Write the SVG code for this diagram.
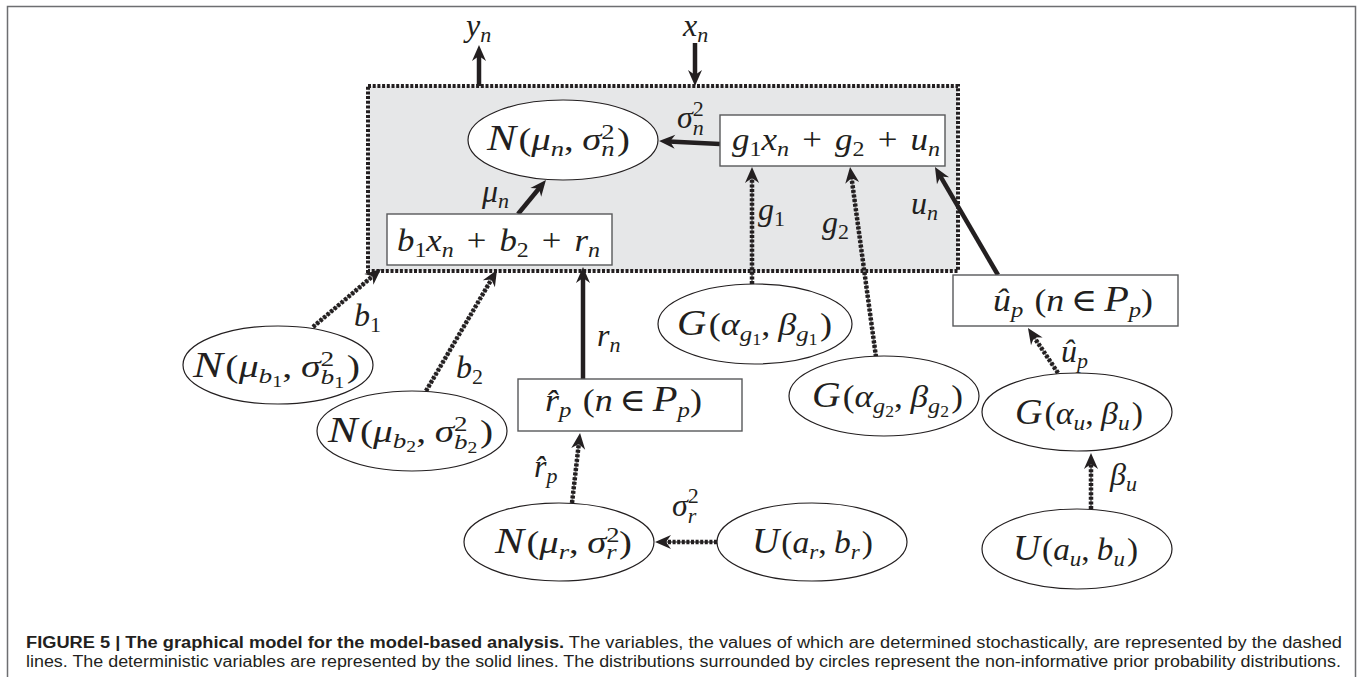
<svg xmlns="http://www.w3.org/2000/svg" width="1360" height="677" viewBox="0 0 1360 677">
<style>
.m{font-family:"Liberation Serif","DejaVu Serif",serif;font-size:32px;fill:#231f20}
.i{font-style:italic}
.c{font-style:italic;font-size:36px}
.s{font-size:22px}
.ss{font-size:16px}
.cap{font-family:"Liberation Sans",Arial,sans-serif;font-size:16px;fill:#231f20}
.b{font-weight:bold}
.ell{fill:#fff;stroke:#231f20;stroke-width:1.2}
.box{fill:#fff;stroke:#58595b;stroke-width:1.4}
.solid{stroke:#231f20;stroke-width:4.5;fill:none;marker-end:url(#ah)}
.dotu{stroke:#8a8a8a;stroke-width:2;fill:none}
.dot{stroke:#231f20;stroke-width:4.5;stroke-dasharray:3 1.6;fill:none;marker-end:url(#ah)}
</style>
<defs>
<marker id="ah" viewBox="-17 -8 18 16" refX="-10" refY="0" markerWidth="18" markerHeight="16" markerUnits="userSpaceOnUse" orient="auto">
<path d="M0,0 L-16,-7 L-11,0 L-16,7 Z" fill="#231f20"/>
</marker>
</defs>
<rect width="1360" height="677" fill="#fff"/>
<path d="M7.5,677 V6.5 H1355.5 V677" fill="none" stroke="#6d6e71" stroke-width="1.5"/>

<g id="plate">
<rect x="368" y="86" width="590" height="185" fill="#e6e7e8" stroke="#231f20" stroke-width="4" stroke-dasharray="3 1.7"/>
</g>

<g id="connectors">
<line class="solid" x1="479" y1="86" x2="479" y2="55"/>
<line class="solid" x1="695" y1="43" x2="695" y2="76"/>
<line class="solid" x1="720" y1="144" x2="669" y2="141.5"/>
<line class="solid" x1="518" y1="214" x2="539.6" y2="187.7"/>
<line class="solid" x1="998" y1="275" x2="940" y2="175.6"/>
<line class="solid" x1="583" y1="379" x2="583" y2="277"/>
<line class="dotu" x1="752" y1="284" x2="752" y2="177"/>
<line class="dot" x1="752" y1="284" x2="752" y2="177"/>
<line class="dotu" x1="876" y1="357" x2="851.4" y2="176.9"/>
<line class="dot" x1="876" y1="357" x2="851.4" y2="176.9"/>
<line class="dotu" x1="1058" y1="373" x2="1033.5" y2="336.3"/>
<line class="dot" x1="1058" y1="373" x2="1033.5" y2="336.3"/>
<line class="dotu" x1="1091" y1="509" x2="1091" y2="463"/>
<line class="dot" x1="1091" y1="509" x2="1091" y2="463"/>
<line class="dotu" x1="313" y1="327" x2="373.4" y2="275.5"/>
<line class="dot" x1="313" y1="327" x2="373.4" y2="275.5"/>
<line class="dotu" x1="426" y1="391" x2="491.9" y2="278.6"/>
<line class="dot" x1="426" y1="391" x2="491.9" y2="278.6"/>
<line class="dotu" x1="572" y1="503" x2="578.9" y2="442.9"/>
<line class="dot" x1="572" y1="503" x2="578.9" y2="442.9"/>
<line class="dotu" x1="717" y1="542" x2="665" y2="542"/>
<line class="dot" x1="717" y1="542" x2="665" y2="542"/>
</g>

<g id="labels">
<text class="m" x="466" y="36"><tspan class="i">y</tspan><tspan class="s i" dy="6">n</tspan></text>
<text class="m" x="683" y="36"><tspan class="i">x</tspan><tspan class="s i" dy="6">n</tspan></text>
<text class="m" x="677" y="128"><tspan class="i">σ</tspan><tspan class="s" dy="-12">2</tspan><tspan class="s i" dx="-11" dy="19">n</tspan></text>
<text class="m" x="482" y="202"><tspan class="i">μ</tspan><tspan class="s i" dy="6">n</tspan></text>
<text class="m" x="758" y="220"><tspan class="i">g</tspan><tspan class="s" dy="6">1</tspan></text>
<text class="m" x="822" y="233"><tspan class="i">g</tspan><tspan class="s" dy="6">2</tspan></text>
<text class="m" x="911" y="214"><tspan class="i">u</tspan><tspan class="s i" dy="6">n</tspan></text>
<text class="m" x="1061" y="362"><tspan class="i">û</tspan><tspan class="s i" dy="6">p</tspan></text>
<text class="m" x="1110" y="485"><tspan class="i">β</tspan><tspan class="s i" dy="6">u</tspan></text>
<text class="m" x="354" y="326"><tspan class="i">b</tspan><tspan class="s" dy="6">1</tspan></text>
<text class="m" x="456" y="378"><tspan class="i">b</tspan><tspan class="s" dy="6">2</tspan></text>
<text class="m" x="597" y="346"><tspan class="i">r</tspan><tspan class="s i" dy="6">n</tspan></text>
<text class="m" x="534" y="477"><tspan class="i">r̂</tspan><tspan class="s i" dy="6">p</tspan></text>
<text class="m" x="672" y="516"><tspan class="i">σ</tspan><tspan class="s" dy="-13">2</tspan><tspan class="s i" dx="-11" dy="20">r</tspan></text>
</g>

<g id="n-normal-n">
<ellipse class="ell" cx="563" cy="140" rx="95" ry="40"/>
<text class="m" x="487" y="150" textLength="143" lengthAdjust="spacingAndGlyphs"><tspan class="c">N</tspan><tspan dx="2">(</tspan><tspan class="i">μ</tspan><tspan class="s i" dy="6">n</tspan><tspan dy="-6">,</tspan><tspan class="i" dx="7">σ</tspan><tspan class="s" dy="-11">2</tspan><tspan class="s i" dx="-11" dy="17">n</tspan><tspan dy="-6" dx="2">)</tspan></text>
</g>

<g id="box-b">
<rect class="box" x="387" y="214" width="225" height="51"/>
<text class="m" x="397" y="251" textLength="203" lengthAdjust="spacingAndGlyphs"><tspan class="i">b</tspan><tspan class="s" dy="6">1</tspan><tspan class="i" dy="-6">x</tspan><tspan class="s i" dy="6">n</tspan><tspan dy="-6" dx="12">+</tspan><tspan class="i" dx="12">b</tspan><tspan class="s" dy="6">2</tspan><tspan dy="-6" dx="12">+</tspan><tspan class="i" dx="12">r</tspan><tspan class="s i" dy="6">n</tspan></text>
</g>

<g id="box-g">
<rect class="box" x="720" y="115" width="225" height="51"/>
<text class="m" x="732" y="150" textLength="208" lengthAdjust="spacingAndGlyphs"><tspan class="i">g</tspan><tspan class="s" dy="6">1</tspan><tspan class="i" dy="-6">x</tspan><tspan class="s i" dy="6">n</tspan><tspan dy="-6" dx="12">+</tspan><tspan class="i" dx="12">g</tspan><tspan class="s" dy="6">2</tspan><tspan dy="-6" dx="12">+</tspan><tspan class="i" dx="12">u</tspan><tspan class="s i" dy="6">n</tspan></text>
</g>

<g id="box-up">
<rect class="box" x="953" y="275" width="225" height="51"/>
<text class="m" x="993" y="311" textLength="160" lengthAdjust="spacingAndGlyphs"><tspan class="i">û</tspan><tspan class="s i" dy="6">p</tspan><tspan dy="-6" dx="10">(</tspan><tspan class="i">n</tspan><tspan dx="6">∈</tspan><tspan class="c" dx="6">P</tspan><tspan class="s i" dy="6">p</tspan><tspan dy="-6">)</tspan></text>
</g>

<g id="box-rp">
<rect class="box" x="518" y="379" width="224" height="52"/>
<text class="m" x="545" y="411" textLength="157" lengthAdjust="spacingAndGlyphs"><tspan class="i">r̂</tspan><tspan class="s i" dy="6">p</tspan><tspan dy="-6" dx="10">(</tspan><tspan class="i">n</tspan><tspan dx="6">∈</tspan><tspan class="c" dx="6">P</tspan><tspan class="s i" dy="6">p</tspan><tspan dy="-6">)</tspan></text>
</g>

<g id="n-b1">
<ellipse class="ell" cx="278" cy="365" rx="95" ry="39"/>
<text class="m" x="193" y="377" textLength="167" lengthAdjust="spacingAndGlyphs"><tspan class="c">N</tspan><tspan dx="2">(</tspan><tspan class="i">μ</tspan><tspan class="s i" dy="6">b</tspan><tspan class="ss" dy="4">1</tspan><tspan dy="-10">,</tspan><tspan class="i" dx="7">σ</tspan><tspan class="s" dy="-11">2</tspan><tspan class="s i" dx="-11" dy="18">b</tspan><tspan class="ss" dy="4">1</tspan><tspan dy="-11" dx="2">)</tspan></text>
</g>

<g id="n-b2">
<ellipse class="ell" cx="412" cy="431" rx="95" ry="40"/>
<text class="m" x="328" y="442" textLength="165" lengthAdjust="spacingAndGlyphs"><tspan class="c">N</tspan><tspan dx="2">(</tspan><tspan class="i">μ</tspan><tspan class="s i" dy="6">b</tspan><tspan class="ss" dy="4">2</tspan><tspan dy="-10">,</tspan><tspan class="i" dx="7">σ</tspan><tspan class="s" dy="-11">2</tspan><tspan class="s i" dx="-11" dy="18">b</tspan><tspan class="ss" dy="4">2</tspan><tspan dy="-11" dx="2">)</tspan></text>
</g>

<g id="g-g1">
<ellipse class="ell" cx="755" cy="324" rx="97" ry="40"/>
<text class="m" x="677" y="335" textLength="155" lengthAdjust="spacingAndGlyphs"><tspan class="c">G</tspan><tspan dx="2">(</tspan><tspan class="i">α</tspan><tspan class="s i" dy="6">g</tspan><tspan class="ss" dy="4">1</tspan><tspan dy="-10">,</tspan><tspan class="i" dx="7">β</tspan><tspan class="s i" dy="6">g</tspan><tspan class="ss" dy="4">1</tspan><tspan dy="-10" dx="2">)</tspan></text>
</g>

<g id="g-g2">
<ellipse class="ell" cx="884" cy="396" rx="95" ry="40"/>
<text class="m" x="812" y="407" textLength="151" lengthAdjust="spacingAndGlyphs"><tspan class="c">G</tspan><tspan dx="2">(</tspan><tspan class="i">α</tspan><tspan class="s i" dy="6">g</tspan><tspan class="ss" dy="4">2</tspan><tspan dy="-10">,</tspan><tspan class="i" dx="7">β</tspan><tspan class="s i" dy="6">g</tspan><tspan class="ss" dy="4">2</tspan><tspan dy="-10" dx="2">)</tspan></text>
</g>

<g id="g-u">
<ellipse class="ell" cx="1077" cy="412" rx="95" ry="39"/>
<text class="m" x="1015" y="424" textLength="128" lengthAdjust="spacingAndGlyphs"><tspan class="c">G</tspan><tspan dx="2">(</tspan><tspan class="i">α</tspan><tspan class="s i" dy="6">u</tspan><tspan dy="-6">,</tspan><tspan class="i" dx="7">β</tspan><tspan class="s i" dy="6">u</tspan><tspan dy="-6" dx="2">)</tspan></text>
</g>

<g id="u-u">
<ellipse class="ell" cx="1077" cy="549" rx="95" ry="40"/>
<text class="m" x="1013" y="560" textLength="125" lengthAdjust="spacingAndGlyphs"><tspan class="c">U</tspan><tspan dx="2">(</tspan><tspan class="i">a</tspan><tspan class="s i" dy="6">u</tspan><tspan dy="-6">,</tspan><tspan class="i" dx="7">b</tspan><tspan class="s i" dy="6">u</tspan><tspan dy="-6" dx="2">)</tspan></text>
</g>

<g id="n-r">
<ellipse class="ell" cx="559" cy="542" rx="95" ry="39"/>
<text class="m" x="495" y="553" textLength="137" lengthAdjust="spacingAndGlyphs"><tspan class="c">N</tspan><tspan dx="2">(</tspan><tspan class="i">μ</tspan><tspan class="s i" dy="6">r</tspan><tspan dy="-6">,</tspan><tspan class="i" dx="7">σ</tspan><tspan class="s" dy="-11">2</tspan><tspan class="s i" dx="-11" dy="17">r</tspan><tspan dy="-6" dx="2">)</tspan></text>
</g>

<g id="u-r">
<ellipse class="ell" cx="812" cy="542" rx="95" ry="39"/>
<text class="m" x="752" y="553" textLength="121" lengthAdjust="spacingAndGlyphs"><tspan class="c">U</tspan><tspan dx="2">(</tspan><tspan class="i">a</tspan><tspan class="s i" dy="6">r</tspan><tspan dy="-6">,</tspan><tspan class="i" dx="7">b</tspan><tspan class="s i" dy="6">r</tspan><tspan dy="-6" dx="2">)</tspan></text>
</g>

<g id="caption">
<text class="cap" x="26" y="648" textLength="1316" lengthAdjust="spacingAndGlyphs"><tspan class="b">FIGURE 5 | The graphical model for the model-based analysis.</tspan> The variables, the values of which are determined stochastically, are represented by the dashed</text>
<text class="cap" x="26" y="667" textLength="1315" lengthAdjust="spacingAndGlyphs">lines. The deterministic variables are represented by the solid lines. The distributions surrounded by circles represent the non-informative prior probability distributions.</text>
</g>
</svg>
